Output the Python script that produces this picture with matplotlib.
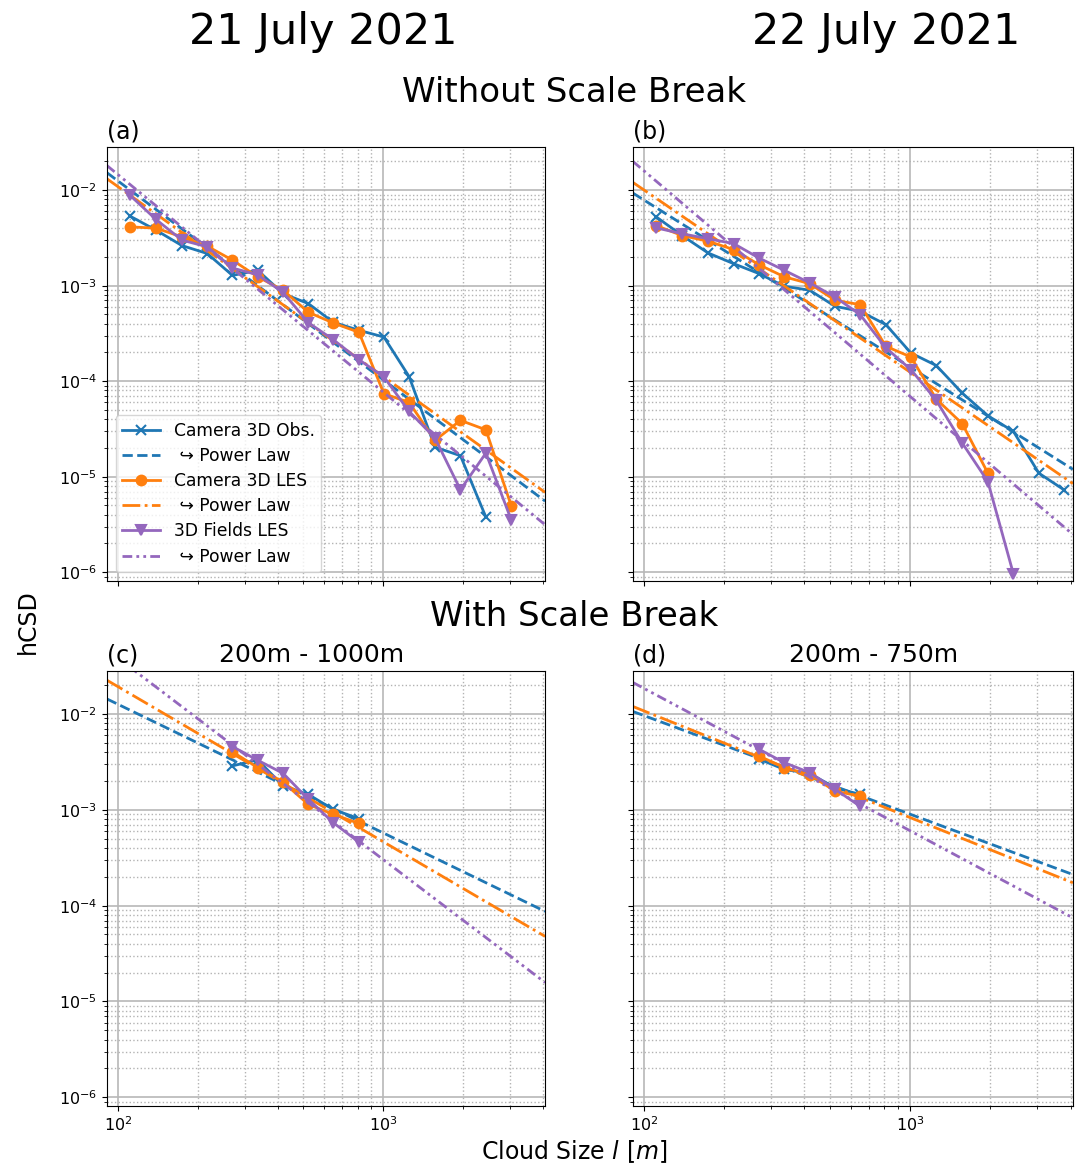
import matplotlib
matplotlib.use("Agg")
import matplotlib.pyplot as plt
import numpy as np

# cloud size bin centres [m]
sizes = [111, 139, 174, 217, 270, 336, 419, 522, 648, 810, 1006, 1252, 1568, 1956, 2440, 3040, 3775]

# (a) 21 July, without scale break
a_obs = [5.34e-3, 3.81e-3, 2.63e-3, 2.17e-3, 1.28e-3, 1.45e-3, 8.26e-4, 6.49e-4, 4.14e-4,
         3.41e-4, 2.9e-4, 1.12e-4, 2.04e-5, 1.66e-5, 3.78e-6]
a_cam = [4.13e-3, 4.0e-3, 3.24e-3, 2.59e-3, 1.85e-3, 1.24e-3, 8.95e-4, 5.27e-4, 4.07e-4,
         3.25e-4, 7.4e-5, 6.0e-5, 2.4e-5, 3.89e-5, 3.1e-5, 4.97e-6]
a_fld = [8.8e-3, 4.93e-3, 3.0e-3, 2.55e-3, 1.53e-3, 1.3e-3, 8.5e-4, 4.1e-4, 2.72e-4,
         1.68e-4, 1.11e-4, 4.83e-5, 2.54e-5, 7.3e-6, 1.77e-5, 3.54e-6]

# (b) 22 July, without scale break
b_obs = [5.26e-3, 3.35e-3, 2.2e-3, 1.7e-3, 1.34e-3, 9.87e-4, 8.96e-4, 6.08e-4, 5.4e-4,
         3.91e-4, 1.97e-4, 1.46e-4, 7.5e-5, 4.35e-5, 2.98e-5, 1.09e-5, 7.3e-6]
b_cam = [4.26e-3, 3.35e-3, 2.92e-3, 2.39e-3, 1.66e-3, 1.24e-3, 1.05e-3, 7.03e-4, 6.33e-4,
         2.32e-4, 1.79e-4, 6.5e-5, 3.59e-5, 1.09e-5]
b_fld = [4.03e-3, 3.5e-3, 3.1e-3, 2.76e-3, 1.95e-3, 1.45e-3, 1.07e-3, 7.6e-4, 4.98e-4,
         2.23e-4, 1.32e-4, 6.3e-5, 2.25e-5, 8.9e-6, 9.6e-7]

# (c) 21 July, 200m - 1000m (bins 270..810)
c_obs = [2.88e-3, 3.33e-3, 1.78e-3, 1.45e-3, 1.01e-3, 8.1e-4]
c_cam = [4.03e-3, 2.77e-3, 1.95e-3, 1.14e-3, 8.98e-4, 7.22e-4]
c_fld = [4.58e-3, 3.3e-3, 2.41e-3, 1.29e-3, 7.35e-4, 4.6e-4]

# (d) 22 July, 200m - 750m (bins 270..648)
d_obs = [3.4e-3, 2.65e-3, 2.4e-3, 1.7e-3, 1.45e-3]
d_cam = [3.66e-3, 2.77e-3, 2.33e-3, 1.57e-3, 1.39e-3]
d_fld = [4.3e-3, 3.12e-3, 2.45e-3, 1.64e-3, 1.09e-3]

# power law fits: (exponent, value at 1000 m)
a_fit = [(-2.08, 1.035e-4), (-1.986, 1.12e-4), (-2.275, 7.7e-5)]
b_fit = [(-1.75, 1.4e-4), (-1.908, 1.24e-4), (-2.363, 6.9e-5)]
c_fit = [(-1.342, 5.75e-4), (-1.618, 4.65e-4), (-2.102, 3.03e-4)]
d_fit = [(-1.03, 9.0e-4), (-1.114, 8.3e-4), (-1.487, 6.04e-4)]

labels = ["Camera 3D Obs.", "Camera 3D LES", "3D Fields LES"]
colors = ["#1f77b4", "#ff7f0e", "#9467bd"]
markers = ["x", "o", "v"]
fit_styles = ["--", "-.", (0, (3.5, 1.5, 1, 1.5, 1, 1.5))]

xlim = (90.8, 4080)
ylim = (8.1e-7, 2.85e-2)

plt.rcParams["font.family"] = "DejaVu Sans"

fig = plt.figure(figsize=(10.8, 11.69), dpi=100)
ax_a = fig.add_axes([0.0991, 0.503, 0.4056, 0.3715])
ax_b = fig.add_axes([0.586, 0.503, 0.4074, 0.3715], sharex=ax_a, sharey=ax_a)
ax_c = fig.add_axes([0.0991, 0.0539, 0.4056, 0.3725], sharex=ax_a, sharey=ax_a)
ax_d = fig.add_axes([0.586, 0.0539, 0.4074, 0.3725], sharex=ax_a, sharey=ax_a)

panels = [
    (ax_a, 0, [a_obs, a_cam, a_fld], a_fit, "(a)", None, None),
    (ax_b, 0, [b_obs, b_cam, b_fld], b_fit, "(b)", None, None),
    (ax_c, 4, [c_obs, c_cam, c_fld], c_fit, "(c)", "200m - 1000m", 0.467),
    (ax_d, 4, [d_obs, d_cam, d_fld], d_fit, "(d)", "200m - 750m", 0.547),
]

for ax, start, series, fits, tag, sub, subx in panels:
    ax.set_xscale("log")
    ax.set_yscale("log")
    xl = np.array(xlim)
    for i in range(3):
        y = series[i]
        x = sizes[start:start + len(y)]
        ax.plot(x, y, color=colors[i], marker=markers[i], lw=2, ms=7, mew=1.5,
                label=labels[i])
        expo, v1000 = fits[i]
        ax.plot(xl, v1000 * (xl / 1000.0) ** expo, color=colors[i], ls=fit_styles[i],
                lw=2, label=" \u21aa Power Law")
    ax.grid(which="major", color="0.72", lw=1.2)
    ax.grid(which="minor", color="0.7", ls=":", lw=1)
    ax.set_title(tag, loc="left", fontsize=17)
    if sub:
        ax.text(subx, 1.008, sub, transform=ax.transAxes, ha="center", va="bottom",
                fontsize=18)
    ax.tick_params(labelsize=11.5)

ax_a.set_xlim(*xlim)
ax_a.set_ylim(*ylim)
for ax in [ax_a, ax_b]:
    ax.tick_params(labelbottom=False)
for ax in [ax_b, ax_d]:
    ax.tick_params(labelleft=False)

ax_a.legend(loc="lower left", fontsize=12.3, handlelength=2.2, labelspacing=0.42)

fig.text(323 / 1080, 1 - 32 / 1169, "21 July 2021", ha="center", va="center", fontsize=31)
fig.text(886 / 1080, 1 - 32 / 1169, "22 July 2021", ha="center", va="center", fontsize=31)
fig.text(574 / 1080, 1 - 93 / 1169, "Without Scale Break", ha="center", va="center", fontsize=24.5)
fig.text(574 / 1080, 1 - 616 / 1169, "With Scale Break", ha="center", va="center", fontsize=24.5)
fig.text(28 / 1080, 1 - 622 / 1169, "hCSD", ha="center", va="center", rotation=90, fontsize=17)
fig.text(574 / 1080, 1 - 1152 / 1169, "Cloud Size $l$ [$m$]", ha="center", va="center", fontsize=17)

fig.savefig("out.png", dpi=100)
